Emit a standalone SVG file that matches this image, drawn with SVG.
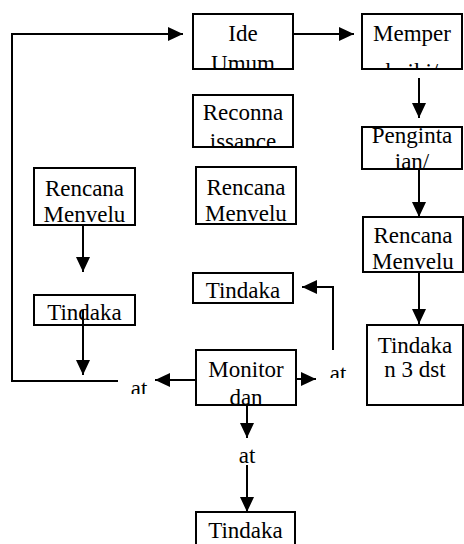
<svg xmlns="http://www.w3.org/2000/svg" width="464" height="544" viewBox="0 0 464 544">
<style>
.box{fill:#fff;stroke:#000;stroke-width:2}
.t{font-family:'Liberation Serif','DejaVu Serif',serif;font-size:23px;fill:#000;text-anchor:middle}
.c{fill:none;stroke:#000;stroke-width:2}
</style>
<defs>
<marker id="ah" markerUnits="userSpaceOnUse" markerWidth="16" markerHeight="16" refX="15" refY="7" orient="auto">
<path d="M0,0 L15,7 L0,14 z" fill="#000"/>
</marker>
<clipPath id="cIde"><rect x="194" y="15" width="98" height="53"/></clipPath>
<clipPath id="cMem"><rect x="363" y="15" width="98" height="53"/></clipPath>
<clipPath id="cRec"><rect x="194" y="96" width="98" height="50"/></clipPath>
<clipPath id="cPen"><rect x="363" y="128" width="98" height="40"/></clipPath>
<clipPath id="cMon"><rect x="197" y="351" width="98" height="53"/></clipPath>
<clipPath id="cAtR"><rect x="320" y="360" width="40" height="18"/></clipPath>
<clipPath id="cAtL"><rect x="120" y="375" width="40" height="19"/></clipPath>
<clipPath id="cBot"><rect x="197" y="513" width="97" height="40"/></clipPath>
</defs>
<g id="connectors">
<line class="c" x1="293" y1="34" x2="354" y2="34" marker-end="url(#ah)"/>
<polyline class="c" points="118,381 12,381 12,34 183,34" marker-end="url(#ah)"/>
<line class="c" x1="419" y1="78" x2="419" y2="118" marker-end="url(#ah)"/>
<line class="c" x1="419" y1="169" x2="419" y2="217" marker-end="url(#ah)"/>
<line class="c" x1="419" y1="272" x2="419" y2="324" marker-end="url(#ah)"/>
<line class="c" x1="83" y1="225" x2="83" y2="272" marker-end="url(#ah)"/>
<line class="c" x1="83" y1="310" x2="83" y2="375" marker-end="url(#ah)"/>
<line class="c" x1="196" y1="380" x2="155" y2="380" marker-end="url(#ah)"/>
<line class="c" x1="296" y1="379" x2="316" y2="379" marker-end="url(#ah)"/>
<polyline class="c" points="333,350 333,287 302,287" marker-end="url(#ah)"/>
<line class="c" x1="247" y1="405" x2="247" y2="438" marker-end="url(#ah)"/>
<line class="c" x1="247" y1="465" x2="247" y2="512" marker-end="url(#ah)"/>
</g>
<g id="ide">
<rect class="box" x="193" y="14" width="100" height="55"/>
<g clip-path="url(#cIde)"><text class="t" x="243" y="41">Ide</text><text class="t" x="243" y="71">Umum</text></g>
</g>
<g id="memper">
<rect class="box" x="362" y="14" width="100" height="55"/>
<g clip-path="url(#cMem)"><text class="t" x="412" y="41">Memper</text><text class="t" x="412" y="79">baiki/</text></g>
</g>
<g id="recon">
<rect class="box" x="193" y="95" width="100" height="52"/>
<g clip-path="url(#cRec)"><text class="t" x="243" y="120">Reconna</text><text class="t" x="243" y="149">issance</text></g>
</g>
<g id="penginta">
<rect class="box" x="362" y="127" width="100" height="42"/>
<g clip-path="url(#cPen)"><text class="t" x="412" y="143">Penginta</text><text class="t" x="412" y="169">ian/</text></g>
</g>
<g id="rencanaL">
<rect class="box" x="34" y="168" width="101" height="57"/>
<text class="t" x="84.5" y="196">Rencana</text><text class="t" x="84.5" y="222">Menvelu</text>
</g>
<g id="rencanaM">
<rect class="box" x="196" y="167" width="100" height="57"/>
<text class="t" x="246" y="195">Rencana</text><text class="t" x="246" y="221">Menvelu</text>
</g>
<g id="rencanaR">
<rect class="box" x="363" y="217" width="100" height="55"/>
<text class="t" x="413" y="243">Rencana</text><text class="t" x="413" y="269">Menvelu</text>
</g>
<g id="tindakaL">
<rect class="box" x="34" y="295" width="101" height="30"/>
<text class="t" x="84.5" y="320">Tindaka</text>
<line class="c" x1="83" y1="310" x2="83" y2="325"/>
</g>
<g id="tindakaM">
<rect class="box" x="193" y="273" width="100" height="30"/>
<text class="t" x="243" y="298">Tindaka</text>
</g>
<g id="monitor">
<rect class="box" x="196" y="350" width="100" height="55"/>
<g clip-path="url(#cMon)"><text class="t" x="246" y="377">Monitor</text><text class="t" x="246" y="405">dan</text></g>
</g>
<g id="tindaka3">
<rect class="box" x="367" y="325" width="96" height="80"/>
<text class="t" x="415" y="353">Tindaka</text><text class="t" x="415" y="377">n 3 dst</text>
</g>
<g id="labels">
<g clip-path="url(#cAtL)"><text class="t" x="139" y="396">at</text></g>
<g clip-path="url(#cAtR)"><text class="t" x="338" y="381">at</text></g>
<text class="t" x="247" y="463">at</text>
</g>
<g id="tindakaB">
<rect class="box" x="196" y="512" width="99" height="40"/>
<g clip-path="url(#cBot)"><text class="t" x="245.5" y="538">Tindaka</text></g>
</g>
</svg>
